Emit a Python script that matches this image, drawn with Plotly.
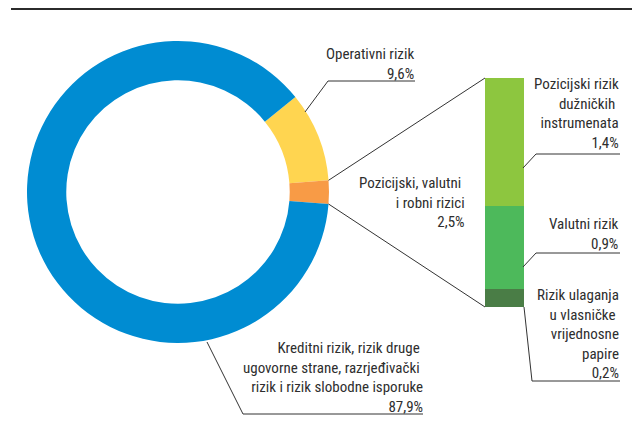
import math
import plotly.graph_objects as go

# Donut: main categories (share of total, %)
pie_labels = ["Operativni rizik",
              "Pozicijski, valutni i robni rizici",
              "Kreditni rizik, rizik druge ugovorne strane, razrjeđivački rizik i rizik slobodne isporuke"]
pie_values = [9.6, 2.5, 87.9]
pie_colors = ["#FFD550", "#F89B46", "#008CD2"]

# Breakdown of the "Pozicijski, valutni i robni rizici" slice, bottom -> top
bar_labels = ["Rizik ulaganja u vlasničke vrijednosne papire",
              "Valutni rizik",
              "Pozicijski rizik dužničkih instrumenata"]
bar_values = [0.2, 0.9, 1.4]
bar_colors = ["#4A7D46", "#4DB95B", "#8DC63F"]

W, H = 632, 434
PIE_X = [27 / W, 329 / W]
PIE_Y = [1 - 343 / H, 1 - 41 / H]
BAR_X = [485 / W, 524 / W]
BAR_Y = [1 - 307 / H, 1 - 78 / H]
ROTATION = 51

TXT = dict(family="Roboto Condensed, Liberation Sans, sans-serif", size=15, color="#2E2E2E")
LINE = dict(color="#333333", width=1)

fig = go.Figure()
fig.add_trace(go.Pie(labels=pie_labels, values=pie_values, hole=0.74, sort=False,
                     direction="clockwise", rotation=ROTATION,
                     marker=dict(colors=pie_colors, line=dict(width=0)),
                     textinfo="none", hoverinfo="label+value",
                     domain=dict(x=PIE_X, y=PIE_Y), showlegend=False))

for lab, val, col in zip(bar_labels, bar_values, bar_colors):
    fig.add_trace(go.Bar(x=[0], y=[val], name=lab, marker=dict(color=col, line=dict(width=0)),
                         width=1, xaxis="x2", yaxis="y2", showlegend=False, hoverinfo="name+y"))


# edges of the split slice, in paper coordinates
def pie_point(angle_deg):
    cx = (PIE_X[0] + PIE_X[1]) / 2
    cy = (PIE_Y[0] + PIE_Y[1]) / 2
    r = (PIE_X[1] - PIE_X[0]) / 2 * W
    a = math.radians(angle_deg)
    return cx + r * math.sin(a) / W, cy + r * math.cos(a) / H


total = sum(pie_values)
start = ROTATION + 360 * pie_values[0] / total
end = start + 360 * pie_values[1] / total
x0, y0 = pie_point(start)
x1, y1 = pie_point(end)
fig.add_shape(type="line", xref="paper", yref="paper", x0=x0, y0=y0, x1=BAR_X[0], y1=BAR_Y[1], line=LINE)
fig.add_shape(type="line", xref="paper", yref="paper", x0=x1, y0=y1, x1=BAR_X[0], y1=BAR_Y[0], line=LINE)

# top rule
fig.add_shape(type="line", xref="paper", yref="paper", x0=11 / W, x1=1, y0=1 - 9 / H, y1=1 - 9 / H,
              line=dict(color="#2B2B2B", width=2))


def pct(v):
    return f"{v:.1f}".replace(".", ",") + "%"


def label(text, right, ymid):
    fig.add_annotation(text=text, xref="paper", yref="paper", x=right / W, y=1 - ymid / H,
                       xanchor="right", yanchor="middle", align="right", showarrow=False, font=TXT)


def leader(pts):
    path = "M " + " L ".join(f"{x / W},{1 - y / H}" for x, y in pts)
    fig.add_shape(type="path", xref="paper", yref="paper", path=path, line=LINE)


label("Operativni rizik<br>" + pct(pie_values[0]), 416, 64)
leader([(305, 112), (328, 81), (415, 81)])

label("Pozicijski, valutni <br>i robni rizici<br>" + pct(pie_values[1]), 467, 202)

label("Kreditni rizik, rizik druge <br>ugovorne strane, razrjeđivački <br>rizik i rizik slobodne isporuke<br>"
      + pct(pie_values[2]), 425, 377)
leader([(207, 342), (243, 414), (423, 414)])

label("Pozicijski rizik<br>dužničkih <br>instrumenata<br>" + pct(bar_values[2]), 621, 114)
leader([(523, 168), (536, 154), (620, 154)])

label("Valutni rizik<br>" + pct(bar_values[1]), 621, 234)
leader([(523, 267), (536, 253), (620, 253)])

label("Rizik ulaganja<br>u vlasničke <br>vrijednosne<br>papire<br>" + pct(bar_values[0]), 621, 334)
leader([(524, 307), (532, 381), (620, 381)])

fig.update_layout(width=W, height=H, margin=dict(l=0, r=0, t=0, b=0),
                  paper_bgcolor="white", plot_bgcolor="white",
                  barmode="stack", bargap=0,
                  xaxis2=dict(domain=BAR_X, range=[-0.5, 0.5], visible=False, fixedrange=True),
                  yaxis2=dict(domain=BAR_Y, range=[0, sum(bar_values)], visible=False, fixedrange=True),
                  xaxis=dict(visible=False), yaxis=dict(visible=False))

fig.write_html("out.html", config={"displayModeBar": False},
               post_script="document.body.style.margin='0';document.body.style.overflow='hidden';")
